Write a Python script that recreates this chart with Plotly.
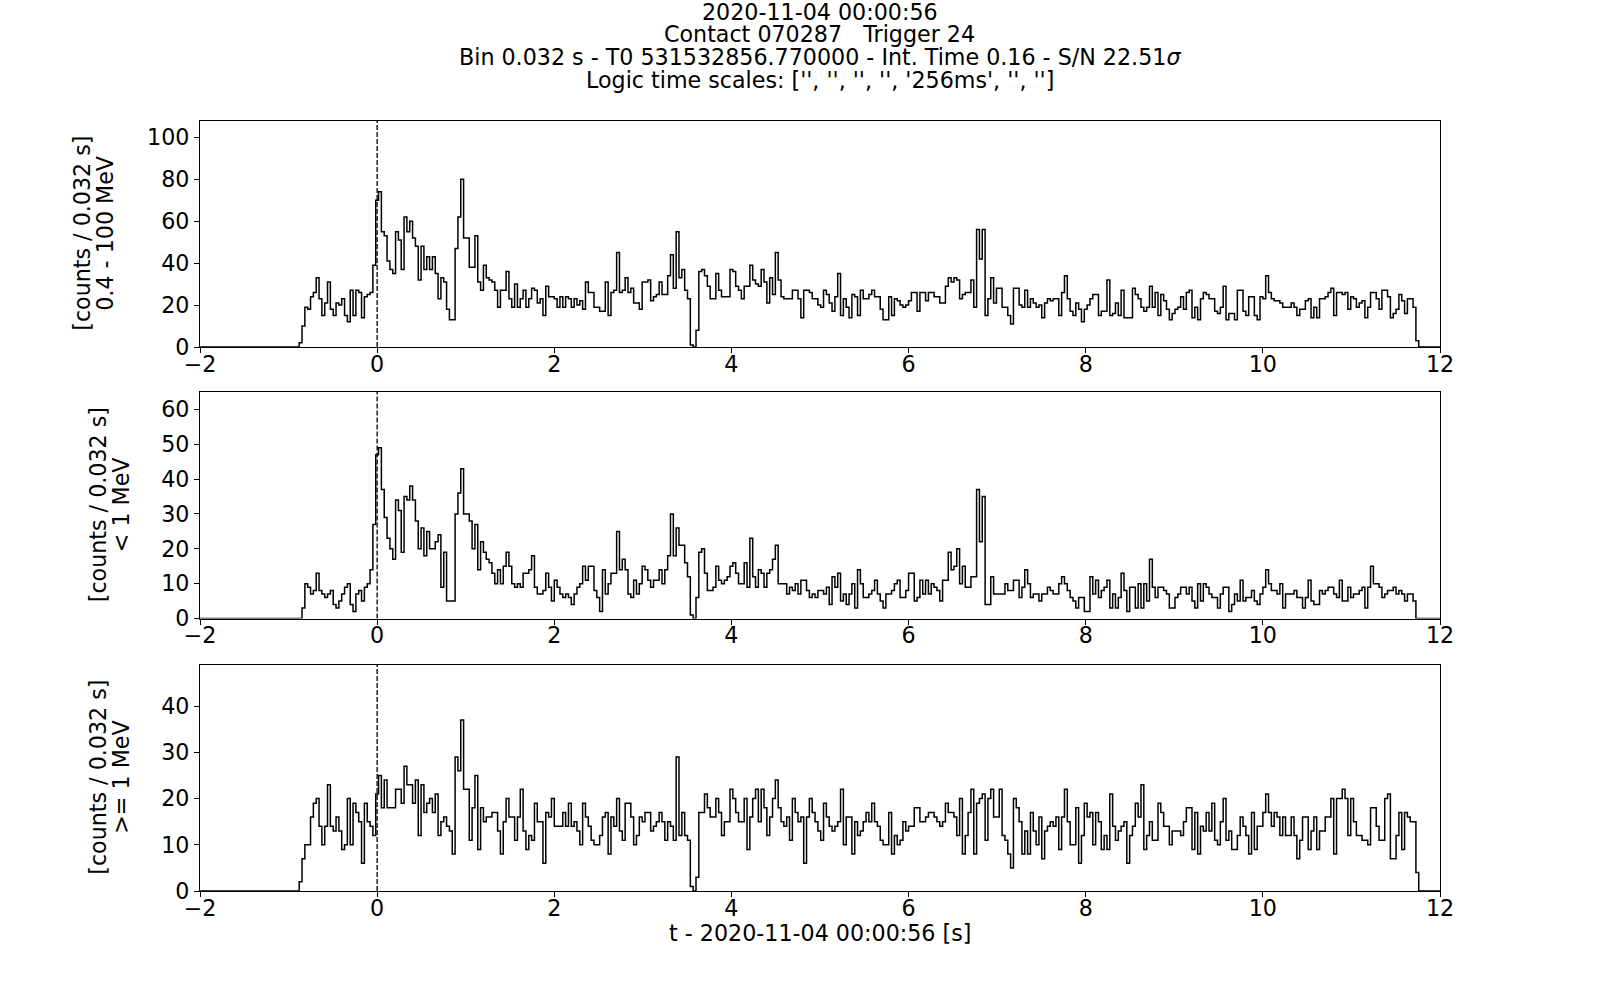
import numpy as np
import plotly.graph_objects as go

# ---------------- data ----------------
t_first_edge = -0.88      # s, first non-empty bin edge
bin_width = 0.032         # s

counts_all = [
    2, 10, 19, 18, 24, 26, 33, 23, 15, 21,
    31, 18, 15, 21, 20, 23, 15, 12, 27, 15,
    27, 26, 14, 24, 25, 26, 39, 70, 74, 55,
    53, 41, 37, 35, 55, 51, 37, 62, 55, 60,
    52, 48, 32, 48, 37, 43, 37, 43, 35, 23,
    33, 31, 18, 13, 13, 47, 62, 80, 52, 52,
    38, 38, 53, 31, 27, 39, 33, 32, 31, 27,
    19, 27, 27, 36, 23, 19, 30, 19, 23, 27,
    19, 23, 28, 27, 21, 23, 15, 29, 24, 24,
    23, 19, 24, 19, 24, 23, 19, 23, 20, 22,
    18, 31, 26, 26, 19, 19, 17, 17, 31, 15,
    26, 27, 45, 26, 27, 33, 26, 28, 21, 21,
    18, 31, 31, 32, 22, 24, 25, 31, 25, 25,
    34, 44, 28, 55, 33, 37, 27, 23, 1, 0,
    8, 36, 37, 34, 29, 23, 23, 35, 27, 24,
    24, 24, 37, 36, 29, 27, 23, 29, 29, 39,
    32, 30, 29, 37, 31, 21, 33, 25, 45, 32,
    24, 23, 23, 23, 27, 27, 23, 14, 27, 27,
    26, 23, 23, 20, 19, 27, 25, 21, 17, 24,
    35, 15, 23, 19, 14, 25, 24, 15, 27, 23,
    23, 25, 27, 24, 24, 18, 13, 13, 24, 15,
    23, 22, 20, 19, 20, 22, 26, 26, 17, 26,
    26, 22, 26, 26, 24, 24, 21, 21, 29, 33,
    31, 33, 32, 23, 25, 26, 26, 32, 19, 56,
    42, 56, 15, 23, 33, 21, 28, 28, 19, 19,
    15, 11, 28, 28, 20, 19, 27, 19, 23, 21,
    19, 20, 14, 21, 23, 22, 23, 23, 15, 26,
    34, 23, 17, 15, 21, 18, 12, 18, 20, 23,
    25, 25, 15, 17, 17, 32, 15, 16, 21, 15,
    27, 14, 14, 14, 28, 25, 23, 19, 17, 19,
    29, 19, 26, 15, 25, 22, 18, 13, 16, 18,
    19, 24, 18, 26, 27, 14, 19, 13, 23, 26,
    25, 23, 23, 17, 16, 19, 29, 13, 16, 16,
    13, 27, 27, 17, 15, 24, 24, 15, 13, 24,
    23, 34, 26, 23, 22, 22, 21, 19, 19, 19,
    21, 19, 15, 18, 18, 22, 23, 14, 19, 14,
    23, 23, 24, 26, 28, 15, 26, 26, 25, 26,
    18, 24, 23, 19, 21, 22, 14, 19, 26, 26,
    23, 18, 27, 27, 24, 14, 16, 18, 25, 22,
    16, 23, 23, 19, 3,
]

counts_low = [
    0, 3, 10, 9, 7, 8, 13, 8, 7, 6,
    7, 8, 4, 3, 5, 7, 9, 10, 4, 2,
    7, 8, 5, 9, 10, 14, 27, 47, 49, 37,
    29, 23, 20, 17, 34, 31, 19, 35, 34, 38,
    34, 28, 20, 26, 18, 25, 20, 20, 22, 24,
    9, 19, 5, 5, 5, 30, 36, 43, 30, 30,
    28, 20, 27, 14, 22, 19, 17, 16, 13, 10,
    14, 10, 15, 19, 15, 10, 9, 10, 9, 13,
    13, 14, 18, 9, 7, 7, 8, 13, 9, 5,
    11, 9, 7, 6, 7, 6, 4, 7, 9, 10,
    15, 11, 15, 15, 8, 6, 2, 14, 7, 10,
    13, 13, 25, 14, 17, 14, 7, 6, 11, 7,
    10, 15, 14, 11, 9, 11, 11, 14, 10, 14,
    18, 30, 18, 26, 21, 21, 16, 12, 1, 0,
    6, 19, 20, 13, 8, 8, 9, 15, 11, 10,
    11, 12, 15, 16, 13, 10, 10, 16, 9, 23,
    12, 9, 14, 13, 9, 13, 14, 17, 21, 10,
    10, 10, 7, 9, 8, 10, 7, 11, 11, 8,
    6, 7, 6, 8, 8, 7, 9, 4, 12, 9,
    13, 5, 7, 4, 7, 10, 3, 14, 10, 6,
    6, 7, 8, 11, 7, 5, 3, 7, 7, 8,
    10, 11, 6, 6, 8, 13, 13, 5, 6, 11,
    7, 11, 7, 10, 9, 8, 5, 11, 11, 19,
    14, 15, 20, 10, 15, 9, 9, 12, 12, 37,
    22, 35, 4, 4, 12, 7, 7, 7, 7, 10,
    8, 8, 11, 11, 6, 9, 14, 10, 6, 7,
    7, 5, 7, 7, 9, 8, 7, 7, 10, 12,
    10, 8, 6, 5, 3, 6, 6, 2, 2, 12,
    7, 11, 6, 8, 9, 11, 3, 7, 3, 6,
    13, 8, 2, 9, 9, 3, 10, 3, 10, 5,
    17, 9, 6, 9, 9, 8, 7, 3, 3, 6,
    7, 9, 9, 7, 9, 5, 3, 10, 5, 10,
    9, 7, 6, 6, 3, 7, 9, 9, 2, 4,
    7, 5, 11, 5, 6, 6, 8, 5, 4, 7,
    9, 14, 10, 8, 8, 7, 10, 3, 7, 7,
    7, 8, 6, 6, 3, 6, 11, 5, 4, 4,
    8, 7, 8, 9, 9, 7, 6, 11, 5, 5,
    9, 6, 7, 7, 8, 9, 3, 9, 15, 10,
    10, 9, 6, 7, 8, 8, 9, 7, 8, 7,
    5, 7, 7, 5, 0,
]

counts_high = [
    2, 7, 10, 10, 16, 19, 20, 14, 10, 14,
    23, 14, 13, 16, 13, 9, 10, 20, 10, 19,
    17, 15, 6, 19, 15, 14, 12, 21, 25, 18,
    24, 18, 18, 18, 22, 22, 19, 27, 23, 23,
    19, 24, 12, 23, 17, 19, 20, 17, 21, 12,
    15, 16, 14, 13, 8, 29, 26, 37, 22, 22,
    11, 18, 25, 9, 18, 15, 16, 16, 17, 17,
    13, 8, 15, 20, 16, 16, 11, 16, 22, 13,
    9, 12, 11, 19, 15, 15, 6, 17, 16, 20,
    14, 14, 14, 17, 14, 19, 14, 15, 13, 10,
    19, 16, 14, 11, 10, 10, 12, 16, 17, 8,
    16, 14, 20, 13, 11, 19, 19, 16, 10, 12,
    16, 15, 17, 17, 13, 14, 15, 17, 15, 11,
    15, 14, 11, 29, 12, 17, 12, 11, 1, 0,
    3, 17, 17, 21, 18, 16, 16, 20, 17, 12,
    15, 15, 22, 20, 17, 15, 15, 20, 9, 16,
    20, 22, 15, 22, 18, 12, 16, 20, 24, 18,
    15, 14, 16, 11, 20, 17, 15, 16, 6, 16,
    20, 17, 15, 13, 11, 19, 16, 14, 13, 14,
    15, 22, 10, 16, 16, 8, 15, 12, 13, 15,
    17, 15, 19, 15, 14, 11, 10, 10, 17, 8,
    12, 10, 11, 15, 13, 14, 14, 18, 18, 15,
    15, 16, 17, 17, 16, 15, 14, 15, 19, 17,
    17, 16, 12, 20, 8, 12, 17, 22, 8, 19,
    20, 21, 11, 20, 22, 16, 16, 22, 12, 11,
    8, 5, 20, 18, 15, 8, 13, 8, 17, 13,
    10, 16, 7, 13, 14, 15, 14, 16, 9, 16,
    22, 15, 10, 10, 18, 6, 12, 19, 16, 17,
    10, 17, 15, 9, 12, 9, 21, 14, 11, 13,
    14, 15, 6, 12, 14, 19, 16, 23, 9, 12,
    15, 11, 11, 19, 17, 14, 14, 10, 13, 13,
    13, 12, 15, 18, 18, 9, 17, 8, 14, 13,
    17, 13, 19, 11, 10, 15, 20, 11, 13, 9,
    9, 12, 16, 14, 12, 8, 17, 9, 14, 14,
    17, 21, 17, 14, 17, 16, 12, 16, 12, 12,
    16, 12, 7, 11, 16, 16, 9, 13, 16, 9,
    13, 13, 16, 16, 20, 8, 20, 20, 22, 20,
    12, 20, 15, 12, 12, 11, 11, 10, 18, 18,
    14, 11, 11, 20, 21, 7, 7, 12, 17, 9,
    17, 16, 15, 15, 4,
]

panel_energy = ["0.4 - 100 MeV", "&lt; 1 MeV", "&gt;= 1 MeV"]
y_label_unit = "[counts / 0.032 s]"
y_max = [108, 65, 49]
y_ticks = [[0, 20, 40, 60, 80, 100], [0, 10, 20, 30, 40, 50, 60], [0, 10, 20, 30, 40]]
x_range = [-2, 12]
x_ticks = [-2, 0, 2, 4, 6, 8, 10, 12]
title_lines = [
    "2020-11-04 00:00:56",
    "Contact 070287   Trigger 24",
    "Bin 0.032 s - T0 531532856.770000 - Int. Time 0.16 - S/N 22.51<i>σ</i>",
    "Logic time scales: ['', '', '', '', '256ms', '', '']",
]
x_label = "t - 2020-11-04 00:00:56 [s]"

# ---------------- layout geometry (fractions of the 1600x1000 page) ----------------
W, H = 1600, 1000
x_dom = [200 / W, 1440 / W]
y_doms = [[1 - 347 / H, 1 - 120.5 / H], [1 - 618.5 / H, 1 - 392 / H], [1 - 891 / H, 1 - 664.5 / H]]
ylab_x = [[82, 105], [98, 121], [98, 121]]

FONT = "DejaVu Sans"
TICK_SIZE = 22.2
LABEL_SIZE = 22.2
TITLE_SIZE = 22.2

fig = go.Figure()
series = [counts_all, counts_low, counts_high]

layout_axes = {}
shapes = []
annotations = []

for i, counts in enumerate(series):
    n = len(counts)
    edges = t_first_edge + bin_width * np.arange(n + 1)
    xs = np.concatenate([[x_range[0]], edges, [x_range[1]]])
    ys = np.concatenate([[0], np.asarray(counts, dtype=float), [0, 0]])
    suffix = "" if i == 0 else str(i + 1)
    fig.add_trace(go.Scatter(
        x=xs, y=ys, mode="lines", line=dict(color="black", width=1.5, shape="hv"),
        xaxis="x" + suffix, yaxis="y" + suffix, showlegend=False, hoverinfo="skip",
    ))

    common = dict(showline=True, mirror=True, linecolor="black", linewidth=1.2,
                  showgrid=False, zeroline=False, ticks="outside", ticklen=5,
                  tickwidth=1.2, tickcolor="black", automargin=False,
                  tickfont=dict(family=FONT, size=TICK_SIZE, color="black"))
    layout_axes["xaxis" + suffix] = dict(
        domain=x_dom, range=x_range, tickvals=x_ticks, anchor="y" + suffix,
        ticklabelstandoff=-8, **common)
    layout_axes["yaxis" + suffix] = dict(
        domain=y_doms[i], range=[0, y_max[i]], tickvals=y_ticks[i], anchor="x" + suffix,
        ticklabelstandoff=0, **common)

    shapes.append(dict(type="line", xref="x" + suffix, yref="y" + suffix + " domain",
                       x0=0, x1=0, y0=0, y1=1,
                       line=dict(color="black", width=1.3, dash="5px,2px")))

    yc = (y_doms[i][0] + y_doms[i][1]) / 2
    for j, txt in enumerate([y_label_unit, panel_energy[i]]):
        annotations.append(dict(
            text=txt, x=ylab_x[i][j] / W, y=yc, xref="paper", yref="paper",
            xanchor="center", yanchor="middle", textangle=-90, showarrow=False,
            font=dict(family=FONT, size=LABEL_SIZE, color="black")))

title_y = [12.5, 34.5, 57.5, 80]
for txt, yy in zip(title_lines, title_y):
    annotations.append(dict(
        text=txt, x=820 / W, y=1 - yy / H, xref="paper", yref="paper",
        xanchor="center", yanchor="middle", showarrow=False,
        font=dict(family=FONT, size=TITLE_SIZE, color="black")))

annotations.append(dict(
    text=x_label, x=820 / W, y=1 - 933 / H, xref="paper", yref="paper",
    xanchor="center", yanchor="middle", showarrow=False,
    font=dict(family=FONT, size=LABEL_SIZE, color="black")))

fig.update_layout(
    width=W, height=H, margin=dict(l=0, r=0, t=0, b=0, pad=0, autoexpand=False),
    paper_bgcolor="white", plot_bgcolor="white",
    font=dict(family=FONT, color="black"),
    shapes=shapes, annotations=annotations, showlegend=False,
    **layout_axes,
)

fig.write_html("out.html", config={"displayModeBar": False},
               post_script="document.body.style.margin='0px';")
